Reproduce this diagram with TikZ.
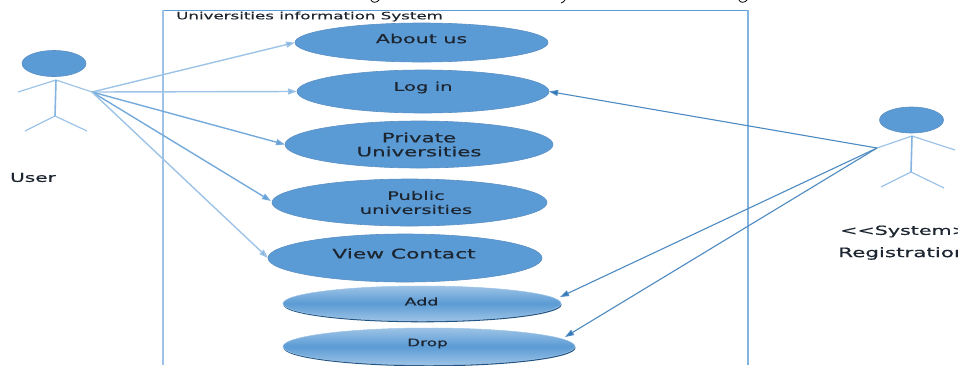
\documentclass[tikz,border=0pt]{standalone}
\usepackage{fontspec}
\setmainfont[FakeStretch=1.65,FakeBold=0.5]{DejaVu Sans}
\usetikzlibrary{arrows.meta,shapes.geometric}
\definecolor{ufill}{HTML}{5B9BD5}
\definecolor{uedge}{HTML}{5A8FC4}
\definecolor{ulight}{HTML}{9DC3E6}
\definecolor{udark}{HTML}{2E75B6}
\definecolor{utxt}{HTML}{1C2530}
\tikzset{
  usecase/.style={ellipse,fill=ufill,draw=uedge,line width=.6pt,inner sep=0pt,outer sep=0pt,text=utxt,align=center},
  shadedcase/.style={ellipse,top color=ulight,bottom color=ulight,middle color=ufill,draw=ulight,line width=.5pt,inner sep=0pt,outer sep=0pt,text=utxt,align=center},
  limb/.style={draw=ulight,line width=1.2pt},
  spine/.style={draw=ufill!75,line width=1.6pt},
  lightarrow/.style={draw=ulight,line width=1.4pt,-{Triangle[length=9pt,width=6pt,fill=ufill!80]}},
  medarrow/.style={draw=ufill!85,line width=1.4pt,-{Triangle[length=9pt,width=6pt,fill=ufill]}},
  darkarrow/.style={draw=udark!85,line width=1.1pt,-{Triangle[length=9pt,width=6pt,fill=udark]}},
  lbl/.style={inner sep=0pt,text=utxt,align=center},
}
\begin{document}
\begin{tikzpicture}[x=1pt,y=-1pt]
\useasboundingbox (0,0) rectangle (958,365);
\clip (0,0) rectangle (958,365);
% system frame
\draw[ufill,line width=.9pt] (163,10) -- (748,10);
\draw[ulight,line width=2.2pt] (163,10) -- (163,365);
\draw[ulight!60!ufill,line width=1.6pt] (748,10) -- (748,365);
% anchors
\coordinate (uhand) at (92,92);
\coordinate (rhand) at (877,148);
% user actor
\node[usecase,minimum width=64pt,minimum height=26pt] (uhead) at (54,63.5) {};
\coordinate (uneck) at (56,80);
\coordinate (uhip) at (55,116);
\coordinate (ularm) at (18,92);
\coordinate (ulleg) at (25,131);
\coordinate (urleg) at (87,131);
\draw[limb] (ularm) -- (uneck) -- (uhand);
\draw[spine] (uneck) -- (uhip);
\draw[limb] (ulleg) -- (uhip) -- (urleg);
% registration actor
\node[usecase,minimum width=64pt,minimum height=26pt] (rhead) at (911.5,120) {};
\coordinate (rneck) at (912,136);
\coordinate (rhip) at (911,172);
\coordinate (rrarm) at (955,150);
\coordinate (rlleg) at (881,187);
\coordinate (rrleg) at (944,188);
\draw[limb] (rhand) -- (rneck) -- (rrarm);
\draw[spine] (rneck) -- (rhip);
\draw[limb] (rlleg) -- (rhip) -- (rrleg);
% use cases
\node[usecase,minimum width=253pt,minimum height=39pt] (about) at (421.5,42.5) {};
\node[usecase,minimum width=252pt,minimum height=43pt] (login) at (423,91.5) {};
\node[usecase,minimum width=268pt,minimum height=47pt] (private) at (419,144.5) {};
\node[usecase,minimum width=275pt,minimum height=47pt] (public) at (409.5,202.5) {};
\node[usecase,minimum width=274pt,minimum height=48pt] (contact) at (405,258) {};
\fill[udark!70!black] (422.5,304.8) ellipse (139pt and 17.5pt);
\node[shadedcase,minimum width=278pt,minimum height=35pt] (add) at (422,303.5) {};
\fill[udark!70!black] (429.5,347.8) ellipse (146pt and 18.5pt);
\node[shadedcase,minimum width=292pt,minimum height=37pt] (drop) at (429,346.5) {};
% labels
\node[lbl,font=\fontsize{10.1}{10}\selectfont,anchor=west] (title) at (176,16.5) {Universities information System};
\node[lbl,font=\fontsize{12.5}{12}\selectfont] at (421.5,38.5) {About us};
\node[lbl,font=\fontsize{11.9}{12}\selectfont] at (423,87.5) {Log in};
\node[lbl,font=\fontsize{12.9}{14}\selectfont] at (419,144.5) {Private\\Universities};
\node[lbl,font=\fontsize{11.8}{14}\selectfont] at (416,202.5) {Public\\universities};
\node[lbl,font=\fontsize{13.2}{12}\selectfont] at (404,253.5) {View Contact};
\node[lbl,font=\fontsize{10.6}{10}\selectfont] at (421.5,301.5) {Add};
\node[lbl,font=\fontsize{10.2}{10}\selectfont] at (427.5,343.5) {Drop};
\node[lbl,font=\fontsize{12.2}{12}\selectfont] at (33,177.5) {User};
\node[lbl,font=\fontsize{12.5}{12}\selectfont,anchor=west] at (840,231.5) {{<}{<}System{>}{>}};
\node[lbl,font=\fontsize{13}{12}\selectfont,anchor=west] at (838,253.5) {Registration};
% connectors
\draw[lightarrow] (uhand) -- (about.west);
\draw[lightarrow] (uhand) -- (login.west);
\draw[medarrow] (uhand) -- (private.west);
\draw[medarrow] (uhand) -- (271,201);
\draw[lightarrow] (uhand) -- (contact.west);
\draw[darkarrow] (rhand) -- (login.east);
\draw[darkarrow] (rhand) -- (560,297);
\draw[darkarrow] (rhand) -- (565,337);
% remnants of the cropped line above the frame
\draw[black,line width=.8pt] (371,0) .. controls (372,3) and (377,3) .. (379,0);
\draw[black,line width=.8pt] (561,3) .. controls (563,3) and (564,1) .. (565,0);
\draw[black,line width=.8pt] (739,0) .. controls (740,3) and (745,3) .. (747,0);
\end{tikzpicture}
\end{document}
